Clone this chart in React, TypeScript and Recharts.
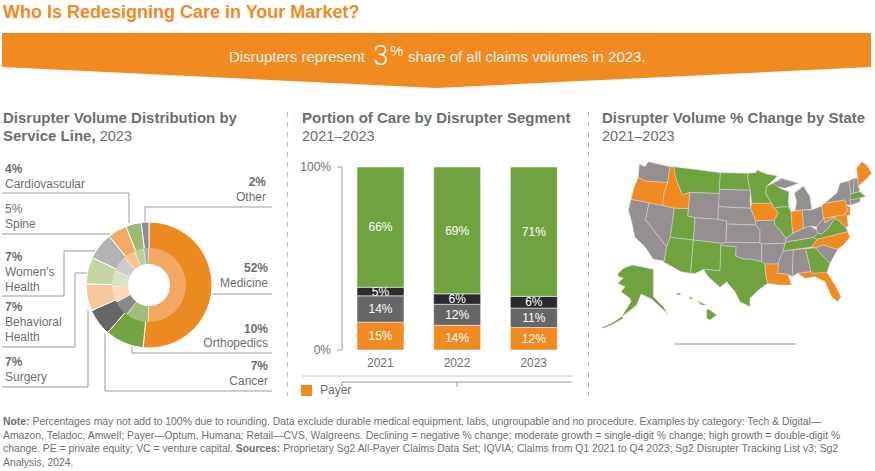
import React from 'react';
import {
  PieChart, Pie, Cell, BarChart, Bar, XAxis, YAxis, Legend, LabelList,
  ScatterChart, Scatter, Polygon,
} from 'recharts';

const ORANGE = '#f18a21';
const GREEN = '#70a33f';
const GRAY = '#958f90';
const TEXT = '#6d6e70';
const FONT = '"Liberation Sans", Arial, sans-serif';

// service line donut
const lineNames = ['Medicine', 'Orthopedics', 'Cancer', 'Surgery', 'Behavioral Health', "Women's Health", 'Spine', 'Cardiovascular', 'Other'];
const lineValues = [52, 10, 7, 7, 7, 7, 5, 4, 2];
const outerColors = ['#ec8a24', '#72a542', '#666666', '#f5c79a', '#c4d4a7', '#b5b3b1', '#f3aa66', '#9ab974', '#8f8d8c'];
const innerColors = ['#f2a862', '#9cbf7a', '#8a8a8a', '#fbd9b8', '#d8e2c6', '#cfcdcc', '#f8c590', '#b8d09c', '#adabab'];
const lineData = lineNames.map((name, i) => ({ name, value: lineValues[i] }));

// segment bars
const years = ['2021', '2022', '2023'];
const payer = [15.2, 13.5, 12.3];
const seg2 = [14.4, 11.5, 10.6];
const seg3 = [4.7, 5.7, 6.4];
const seg4 = [65.7, 69.3, 70.7];
const barData = years.map((year, i) => ({ year, payer: payer[i], seg2: seg2[i], seg3: seg3[i], seg4: seg4[i] }));

// state outlines (x, y in a 840x630 grid)
type Shape = { id: string; fill: string; pts: number[] };
const orangeStates: [string, number[]][] = [
  ['OR', [130, 82, 150, 93, 218, 98, 207, 130, 203, 167, 162, 158, 108, 148, 118, 110]],
  ['ID', [225, 50, 236, 50, 240, 75, 248, 100, 262, 135, 284, 127, 280, 176, 238, 174, 203, 167, 207, 130, 218, 98]],
  ['IA', [470, 160, 530, 160, 537, 175, 550, 188, 538, 210, 482, 212, 475, 195, 467, 175]],
  ['LA', [510, 342, 550, 342, 548, 370, 578, 373, 590, 405, 555, 405, 518, 400, 512, 375]],
  ['IN', [588, 185, 622, 180, 625, 235, 593, 250]],
  ['PA', [680, 168, 688, 160, 750, 150, 758, 180, 745, 195, 686, 205]],
  ['NJ', [752, 165, 765, 170, 765, 195, 755, 198, 745, 195, 758, 180]],
  ['MD', [686, 205, 745, 195, 755, 195, 760, 228, 752, 232, 735, 215, 720, 205, 720, 200, 690, 218]],
  ['NC', [648, 292, 668, 268, 758, 245, 765, 262, 745, 285, 728, 298, 685, 285, 660, 293]],
  ['FL', [608, 370, 648, 365, 650, 370, 695, 367, 720, 405, 738, 440, 728, 455, 710, 440, 690, 395, 660, 380, 630, 385]],
  ['ME', [785, 55, 800, 35, 815, 45, 830, 70, 800, 100, 790, 108, 788, 85]],
];
const greenStates: [string, number[]][] = [
  ['MT', [236, 50, 376, 68, 373, 130, 284, 127, 262, 135, 248, 100, 240, 75]],
  ['UT', [238, 174, 280, 176, 278, 198, 300, 203, 295, 270, 226, 262]],
  ['AZ', [226, 262, 295, 270, 287, 370, 258, 365, 205, 335, 208, 333, 215, 290]],
  ['NM', [295, 270, 378, 280, 375, 362, 325, 358, 302, 370, 287, 370]],
  ['ND', [376, 68, 458, 70, 460, 95, 466, 120, 373, 118]],
  ['TX', [378, 287, 423, 290, 422, 318, 445, 327, 470, 328, 500, 335, 510, 342, 512, 375, 518, 400, 490, 420, 465, 445, 465, 470, 435, 455, 420, 425, 395, 395, 375, 412, 340, 380, 325, 358, 375, 362]],
  ['MN', [458, 70, 483, 68, 485, 60, 515, 72, 548, 78, 515, 108, 512, 130, 530, 160, 470, 160, 466, 120, 460, 95]],
  ['WI', [515, 108, 535, 100, 555, 115, 582, 125, 580, 150, 582, 170, 550, 172, 537, 175, 530, 160, 512, 130]],
  ['IL', [550, 172, 582, 170, 588, 185, 593, 250, 573, 265, 555, 240, 540, 225, 538, 210, 550, 188, 537, 175]],
  ['TN', [565, 303, 570, 280, 578, 275, 655, 263, 668, 268, 648, 292, 600, 298]],
  ['GA', [632, 296, 660, 293, 705, 340, 695, 370, 650, 370, 648, 365]],
  ['VA', [655, 263, 668, 250, 680, 252, 700, 235, 720, 205, 735, 215, 752, 232, 758, 245, 668, 268]],
  ['MA', [766, 132, 795, 125, 812, 140, 765, 150]],
  ['AK', [70, 370, 85, 355, 112, 345, 175, 358, 175, 440, 205, 470, 218, 492, 200, 475, 170, 447, 138, 432, 125, 465, 100, 485, 80, 500, 108, 455, 105, 445, 78, 425, 90, 410, 68, 400, 85, 385, 68, 378]],
  ['AK2', [22, 532, 50, 520, 80, 500, 85, 505, 50, 525, 25, 535]],
  ['HI', [335, 478, 345, 480, 365, 495, 345, 510, 335, 505]],
  ['HI2', [305, 452, 335, 465, 320, 465]],
  ['HI3', [283, 440, 295, 445, 285, 448]],
  ['HI4', [245, 430, 257, 430, 255, 435, 247, 435]],
];
const grayStates: [string, number[]][] = [
  ['WA', [133, 42, 150, 50, 160, 35, 225, 50, 218, 98, 150, 93, 130, 82]],
  ['CA', [108, 148, 162, 158, 152, 210, 215, 290, 208, 333, 175, 328, 150, 290, 120, 262, 110, 215, 100, 180]],
  ['NV', [162, 158, 203, 167, 238, 174, 226, 262, 215, 290, 152, 210]],
  ['WY', [284, 127, 373, 130, 369, 208, 300, 203, 278, 198]],
  ['CO', [300, 203, 369, 208, 395, 212, 393, 277, 378, 280, 295, 270]],
  ['SD', [373, 118, 466, 120, 465, 150, 467, 175, 370, 170]],
  ['NE', [370, 170, 467, 175, 475, 195, 482, 212, 482, 225, 395, 222, 395, 212, 369, 208]],
  ['KS', [395, 222, 482, 225, 495, 240, 495, 278, 393, 277]],
  ['OK', [378, 280, 393, 277, 495, 278, 500, 282, 500, 335, 470, 328, 445, 327, 422, 318, 423, 290, 378, 287]],
  ['MO', [482, 212, 538, 210, 540, 225, 555, 240, 573, 265, 570, 280, 500, 282, 495, 278, 495, 240, 482, 225]],
  ['AR', [500, 282, 570, 280, 565, 303, 552, 332, 550, 342, 510, 342, 500, 335]],
  ['MS', [565, 303, 595, 299, 592, 380, 578, 373, 548, 370, 550, 342, 552, 332]],
  ['AL', [595, 299, 632, 296, 648, 365, 608, 370, 592, 380]],
  ['MI', [598, 130, 625, 108, 645, 140, 650, 178, 622, 180, 600, 182, 605, 155]],
  ['MI2', [525, 105, 560, 85, 610, 100, 570, 115]],
  ['OH', [622, 180, 650, 180, 680, 168, 686, 205, 665, 230, 645, 228, 625, 235]],
  ['KY', [570, 280, 573, 265, 593, 250, 625, 235, 645, 228, 665, 240, 668, 250, 655, 263, 578, 275]],
  ['SC', [660, 293, 685, 285, 728, 298, 705, 340]],
  ['WV', [665, 240, 665, 230, 686, 205, 690, 218, 720, 200, 720, 205, 700, 235, 680, 252, 668, 250]],
  ['NY', [688, 160, 725, 130, 735, 100, 762, 92, 768, 132, 765, 150, 768, 165, 752, 165, 750, 150]],
  ['VT', [762, 92, 778, 85, 775, 130, 768, 132]],
  ['NH', [778, 85, 788, 85, 790, 108, 795, 125, 775, 130]],
  ['CT', [765, 150, 795, 143, 795, 155, 768, 165]],
];
const shapes: Shape[] = [
  ...grayStates.map(([id, pts]) => ({ id, pts, fill: GRAY })),
  ...greenStates.map(([id, pts]) => ({ id, pts, fill: GREEN })),
  ...orangeStates.map(([id, pts]) => ({ id, pts, fill: ORANGE })),
];
const toPoints = (pts: number[]) => {
  const out: { x: number; y: number }[] = [];
  for (let i = 0; i < pts.length; i += 2) out.push({ x: pts[i], y: pts[i + 1] });
  return out;
};

// leader lines of the donut labels
const leaders = [
  '2,193 129,193 129,223',
  '2,234 110,234',
  '2,296 64,296 64,251 95,251',
  '2,347 75,347 75,273 87,273',
  '2,387 88,387 88,310',
  '272,391 105,391 105,333',
  '272,353 132,353 132,347',
  '272,294 212,294',
  '272,207 145,207 145,223',
];

const Abs: React.FC<{ x: number; y: number; w?: number; right?: boolean; style?: React.CSSProperties; children: React.ReactNode }> = ({ x, y, w, right, style, children }) => (
  <div style={{ position: 'absolute', left: x, top: y, width: w, textAlign: right ? 'right' : 'left', whiteSpace: 'nowrap', ...style }}>{children}</div>
);

const PctLabel: React.FC<{ x: number; y: number; pct: string; name: React.ReactNode; right?: boolean; lh?: number }> = ({ x, y, pct, name, right, lh = 15 }) => (
  <Abs x={right ? x - 100 : x} y={y} w={right ? 100 : undefined} right={right} style={{ fontSize: 12, lineHeight: `${lh}px`, color: TEXT }}>
    <b>{pct}</b><br />{name}
  </Abs>
);

const fmt = (v: number) => `${Math.round(v)}%`;

const stateLine = (fill: string) => (props: any) => {
  const points = (props.points || []).map((p: any) => ({ x: p.x ?? p.cx, y: p.y ?? p.cy }));
  return <Polygon points={points} fill={fill} stroke="#d8d6d4" strokeWidth={0.5} />;
};

export default function App() {
  return (
    <div style={{ position: 'absolute', left: 0, top: 0, width: 875, height: 471, overflow: 'hidden', background: '#fff', fontFamily: FONT, color: TEXT }}>
      <Abs x={3} y={2} style={{ fontSize: 18, lineHeight: '20px', fontWeight: 700, color: ORANGE }}>Who Is Redesigning Care in Your Market?</Abs>

      <div style={{ position: 'absolute', left: 2, top: 33, width: 869, height: 55, background: ORANGE, clipPath: 'polygon(0 0, 100% 0, 100% 34px, 50% 55px, 0 34px)' }} />
      <Abs x={229} y={48} style={{ fontSize: 15, lineHeight: '18px', color: '#fff5ea' }}>Disrupters represent</Abs>
      <Abs x={373} y={41} style={{ fontSize: 28, lineHeight: '30px', color: '#fff5ea', fontFamily: 'Roboto', fontWeight: 300 }}>3</Abs>
      <Abs x={390} y={43} style={{ fontSize: 15, lineHeight: '15px', color: '#fff5ea' }}>%</Abs>
      <Abs x={408} y={48} style={{ fontSize: 15, lineHeight: '18px', color: '#fff5ea' }}>share of all claims volumes in 2023.</Abs>

      <Abs x={3} y={109} style={{ fontSize: 15, lineHeight: '18px' }}>
        <b>Disrupter Volume Distribution by</b><br /><b>Service Line,</b> <span style={{ fontSize: 14.5 }}>2023</span>
      </Abs>
      <Abs x={302} y={109} style={{ fontSize: 15, lineHeight: '18px' }}>
        <b>Portion of Care by Disrupter Segment</b><br /><span style={{ fontSize: 14.5 }}>2021–2023</span>
      </Abs>
      <Abs x={602} y={109} style={{ fontSize: 15, lineHeight: '18px' }}>
        <b>Disrupter Volume % Change by State</b><br /><span style={{ fontSize: 14.5 }}>2021–2023</span>
      </Abs>

      <svg width={875} height={471} style={{ position: 'absolute', left: 0, top: 0 }}>
        <line x1={287.5} y1={112} x2={287.5} y2={396} stroke="#bdbdbd" strokeDasharray="5 5" />
        <line x1={588.5} y1={112} x2={588.5} y2={396} stroke="#bdbdbd" strokeDasharray="5 5" />
        {leaders.map((p) => <polyline key={p} points={p} fill="none" stroke="#9b9b9b" strokeWidth={1} />)}
        <line x1={302} y1={376} x2={573} y2={376} stroke="#c4c4c4" />
        <line x1={675} y1={344} x2={796} y2={344} stroke="#8a9299" />
      </svg>

      <div style={{ position: 'absolute', left: 0, top: 150 }}>
        <PieChart width={290} height={250} margin={{ top: 0, right: 0, bottom: 0, left: 0 }}>
          <Pie data={lineData} dataKey="value" cx={149} cy={135} startAngle={90} endAngle={-270} innerRadius={36} outerRadius={63} stroke="#fff" strokeWidth={1} isAnimationActive={false}>
            {lineData.map((d, i) => <Cell key={d.name} fill={outerColors[i]} />)}
          </Pie>
          <Pie data={lineData} dataKey="value" cx={149} cy={135} startAngle={90} endAngle={-270} innerRadius={21} outerRadius={37} stroke="none" paddingAngle={1} isAnimationActive={false}>
            {lineData.map((d, i) => <Cell key={d.name} fill={innerColors[i]} />)}
          </Pie>
        </PieChart>
      </div>

      <PctLabel x={5} y={162} pct="4%" name="Cardiovascular" />
      <Abs x={5} y={202} style={{ fontSize: 12, lineHeight: '15px' }}>5%<br />Spine</Abs>
      <PctLabel x={5} y={250} pct="7%" name={<>Women's<br />Health</>} />
      <PctLabel x={5} y={300} pct="7%" name={<>Behavioral<br />Health</>} />
      <PctLabel x={5} y={355} pct="7%" name="Surgery" />
      <PctLabel x={266} y={175} pct="2%" name="Other" right />
      <PctLabel x={268} y={261} pct="52%" name="Medicine" right />
      <PctLabel x={268} y={322} pct="10%" name="Orthopedics" right lh={14} />
      <PctLabel x={268} y={359} pct="7%" name="Cancer" right />

      <div style={{ position: 'absolute', left: 295, top: 150 }}>
        <BarChart width={290} height={247} data={barData} barCategoryGap={15} margin={{ top: 17, right: 13, bottom: 0, left: 7 }} style={{ fontFamily: FONT }}>
          <XAxis xAxisId="edges" type="number" domain={[0, 3]} ticks={[0, 1, 2, 3]} height={1} tickSize={5} tick={() => <g />} stroke="#9b9b9b" />
          <XAxis dataKey="year" height={32} axisLine={false} tickLine={false} tick={{ fontSize: 12, fill: TEXT }} tickMargin={2} />
          <YAxis domain={[0, 100]} ticks={[0, 100]} width={40} tickSize={5} tickMargin={6} tickFormatter={(v) => `${v}%`} tick={{ fontSize: 12, fill: TEXT }} stroke="#9b9b9b" />
          <Legend verticalAlign="bottom" align="left" iconType="square" iconSize={11} wrapperStyle={{ left: 6, fontSize: 12, color: TEXT }} formatter={() => <span style={{ color: TEXT, marginLeft: 4 }}>Payer</span>} />
          <Bar dataKey="payer" name="Payer" stackId="a" fill={ORANGE} stroke="#fff" strokeWidth={0.5} isAnimationActive={false}>
            <LabelList dataKey="payer" position="center" fill="#fff" fontSize={12} formatter={fmt} />
          </Bar>
          <Bar dataKey="seg2" stackId="a" fill="#666666" stroke="#fff" strokeWidth={0.5} legendType="none" isAnimationActive={false}>
            <LabelList dataKey="seg2" position="center" fill="#fff" fontSize={12} formatter={fmt} />
          </Bar>
          <Bar dataKey="seg3" stackId="a" fill="#2b2b2b" stroke="#fff" strokeWidth={0.5} legendType="none" isAnimationActive={false}>
            <LabelList dataKey="seg3" position="center" fill="#fff" fontSize={12} formatter={fmt} />
          </Bar>
          <Bar dataKey="seg4" stackId="a" fill={GREEN} stroke="#fff" strokeWidth={0.5} legendType="none" isAnimationActive={false}>
            <LabelList dataKey="seg4" position="center" fill="#fff" fontSize={12} formatter={fmt} />
          </Bar>
        </BarChart>
      </div>

      <div style={{ position: 'absolute', left: 595, top: 150 }}>
        <ScatterChart width={280} height={210} margin={{ top: 0, right: 0, bottom: 0, left: 0 }}>
          <XAxis dataKey="x" type="number" domain={[0, 840]} hide />
          <YAxis dataKey="y" type="number" domain={[0, 630]} reversed hide />
          {shapes.map((s) => (
            <Scatter key={s.id} data={toPoints(s.pts)} line={stateLine(s.fill)} shape={() => <g />} isAnimationActive={false} />
          ))}
        </ScatterChart>
      </div>

      <div style={{ position: 'absolute', left: 3, top: 415, whiteSpace: 'nowrap', fontSize: 10.4, lineHeight: '13.5px', color: TEXT }}>
        <b>Note:</b> Percentages may not add to 100% due to rounding. Data exclude durable medical equipment, labs, ungroupable and no procedure. Examples by category: Tech &amp; Digital—<br />
        Amazon, Teladoc, Amwell; Payer—Optum, Humana; Retail—CVS, Walgreens. Declining = negative % change; moderate growth = single-digit % change; high growth = double-digit %<br />
        change. PE = private equity; VC = venture capital. <b>Sources:</b> Proprietary Sg2 All-Payer Claims Data Set; IQVIA; Claims from Q1 2021 to Q4 2023; Sg2 Disrupter Tracking List v3; Sg2<br />
        Analysis, 2024.
      </div>
    </div>
  );
}
